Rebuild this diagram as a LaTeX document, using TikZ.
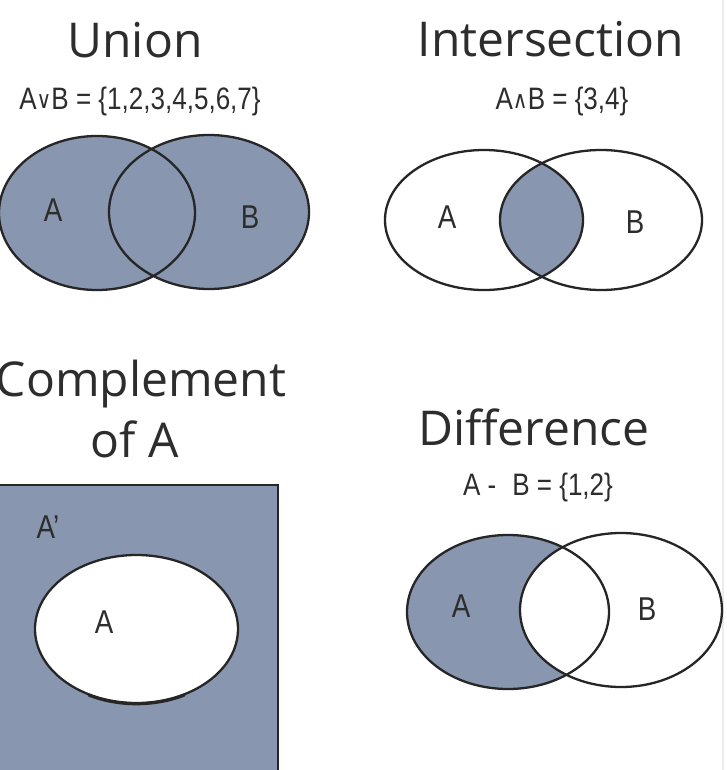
\documentclass[tikz,border=0pt]{standalone}
\usepackage{fontspec}
\setmainfont{Open Sans}
\newfontfamily\narrowfont{Liberation Sans}
\newfontfamily\symfont{DejaVu Sans}
\definecolor{setfill}{RGB}{136,150,176}
\definecolor{edge}{RGB}{38,38,38}
\definecolor{ink}{RGB}{45,45,45}
\newcommand{\nar}[1]{\scalebox{0.84}[1]{#1}}
\newcommand{\opsym}[1]{\raisebox{1pt}{\symfont\fontsize{24}{24}\selectfont #1}}
\begin{document}
\begin{tikzpicture}[x=1pt,y=-1pt,
  titletxt/.style={font=\fontsize{48}{48}\selectfont, text=ink, inner sep=0, anchor=base},
  formula/.style={font=\narrowfont\fontsize{31}{31}\selectfont, text=ink, inner sep=0, anchor=base},
  setlabel/.style={font=\narrowfont\fontsize{33}{33}\selectfont, text=ink, inner sep=0, anchor=base},
  outline/.style={draw=edge, line width=2.3pt},
  shaded/.style={fill=setfill}]
\useasboundingbox (0,0) rectangle (727,770);
\fill[white] (0,0) rectangle (727,770);
\draw[black!8, line width=1.5pt] (723,0) -- (723,770);

% ---------- Union ----------
\node[titletxt] (uT) at (135,58) {Union};
\node[formula] (uF) at (140,110) {\nar{A\opsym{∨}B = \{1,2,3,4,5,6,7\}}};
\fill[shaded] (97,213) ellipse [x radius=98, y radius=77];
\fill[shaded] (209,212) ellipse [x radius=100, y radius=77];
\draw[outline] (97,213) ellipse [x radius=98, y radius=77];
\draw[outline] (209,212) ellipse [x radius=100, y radius=77];
\node[setlabel] (uA) at (53,221) {\nar{A}};
\node[setlabel] (uB) at (250,228) {\nar{B}};

% ---------- Intersection ----------
\node[titletxt] (iT) at (551,57) {Intersection};
\node[formula] (iF) at (562,110) {\nar{A\opsym{∧}B = \{3,4\}}};
\begin{scope}
  \clip (484,220) ellipse [x radius=99, y radius=70];
  \fill[shaded] (601,220) ellipse [x radius=101, y radius=70];
\end{scope}
\draw[outline] (484,220) ellipse [x radius=99, y radius=70];
\draw[outline] (601,220) ellipse [x radius=101, y radius=70];
\node[setlabel] (iA) at (447,228) {\nar{A}};
\node[setlabel] (iB) at (635,233) {\nar{B}};

% ---------- Complement ----------
\node[titletxt] (cT) at (141,396) {Complement};
\node[titletxt] (cT2) at (135,457) {of A};
\fill[shaded] (-5,485) rectangle (278,780);
\draw[outline] (-5,485) -- (278,485) -- (278,780);
\fill[white] (136.5,629) ellipse [x radius=101.5, y radius=74];
\draw[outline] (136.5,629) ellipse [x radius=101.5, y radius=74];
\draw[edge, line width=3pt, line cap=round] (136.5,629.8) ++(62:101.5 and 74) arc [start angle=62, end angle=118, x radius=101.5, y radius=74];
\node[setlabel] (cAp) at (48,538) {\nar{A’}};
\node[setlabel] (cA) at (104,633) {\nar{A}};

% ---------- Difference ----------
\node[titletxt] (dT) at (534,445) {Difference};
\node[formula] (dF) at (538,495) {\nar{A -\,\, B = \{1,2\}}};
\fill[shaded] (508,612) ellipse [x radius=101, y radius=77];
\fill[white] (621,610) ellipse [x radius=101, y radius=77];
\draw[outline] (508,612) ellipse [x radius=101, y radius=77];
\draw[outline] (621,610) ellipse [x radius=101, y radius=77];
\node[setlabel] (dA) at (461,617) {\nar{A}};
\node[setlabel] (dB) at (647,620) {\nar{B}};
\end{tikzpicture}
\end{document}
